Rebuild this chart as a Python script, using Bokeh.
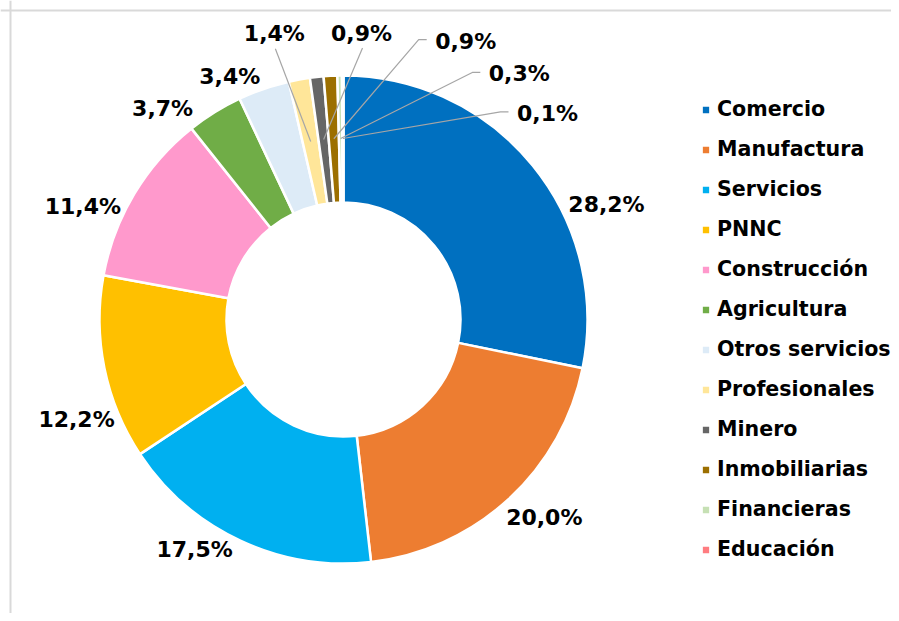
import math
from bokeh.plotting import figure
from bokeh.models import ColumnDataSource, Range1d, Legend, LegendItem, Span
from bokeh.core.properties import value
from bokeh.embed import file_html
from bokeh.resources import INLINE

# ---- data ----
categories = ["Comercio", "Manufactura", "Servicios", "PNNC", "Construcción",
              "Agricultura", "Otros servicios", "Profesionales", "Minero",
              "Inmobiliarias", "Financieras", "Educación"]
shares = [28.2, 20.0, 17.5, 12.2, 11.4, 3.7, 3.4, 1.4, 0.9, 0.9, 0.3, 0.1]
label_texts = ["28,2%", "20,0%", "17,5%", "12,2%", "11,4%", "3,7%", "3,4%",
               "1,4%", "0,9%", "0,9%", "0,3%", "0,1%"]
colors = ["#0070C0", "#ED7D31", "#00B0F0", "#FFC000", "#FF99CC", "#70AD47",
          "#DDEBF7", "#FFE699", "#666666", "#9C6F00", "#C6E0B4", "#FF7C80"]

# ---- layout (label placement, polar: degrees clockwise from top, px from centre) ----
label_angle = [66.4, 134.6, 212.9, 249.5, 293.4, 319.4, 334.9, 346.4, 3.6, 23.7, 35.6, 44.7]
label_dist = [287, 282, 274, 285, 284, 278, 268, 294, 287, 304, 302, 290]
leader_style = [None, None, None, None, None, None, None, "below", "below", "left", "left", "left"]

W, H = 891, 613
CX, CY = 343, H - 319
R_OUT, R_IN = 244, 117
FONT = "DejaVu Sans"
FSIZE = "20.6px"
LABEL_FSIZE = "22px"

total = sum(shares)
starts, ends, mids = [], [], []
cum = 0.0
for s in shares:
    f0 = cum / total
    cum += s
    f1 = cum / total
    starts.append(math.pi / 2 - 2 * math.pi * f0)
    ends.append(math.pi / 2 - 2 * math.pi * f1)
    mids.append(2 * math.pi * (f0 + f1) / 2)  # clockwise from top

src = ColumnDataSource(dict(cat=categories, start=starts, end=ends, color=colors))

p = figure(width=W, height=H, x_range=Range1d(0, W), y_range=Range1d(0, H),
           output_backend="svg", toolbar_location=None,
           x_axis_location=None, y_axis_location=None,
           min_border=0, outline_line_color=None, background_fill_color="white")
p.grid.visible = False

r = p.annular_wedge(x=CX, y=CY, inner_radius=R_IN, outer_radius=R_OUT,
                    start_angle="start", end_angle="end", direction="clock",
                    fill_color="color", line_color="white", line_width=2.5,
                    source=src)

# frame border (left and top)
p.add_layout(Span(location=10, dimension="height", line_color="#D9D9D9", line_width=2))
p.add_layout(Span(location=H - 10, dimension="width", line_color="#D9D9D9", line_width=2))

# data labels
lx = [CX + d * math.sin(math.radians(a)) for a, d in zip(label_angle, label_dist)]
ly = [CY + d * math.cos(math.radians(a)) for a, d in zip(label_angle, label_dist)]
p.text(x=lx, y=ly, text=label_texts, text_align="center", text_baseline="middle",
       text_font=value(FONT), text_font_style="bold", text_font_size=LABEL_FSIZE,
       text_color="black")

# leader lines for the small slices
R_MID = (R_OUT + R_IN) / 2 + 0.5
xs, ys = [], []
for i, st in enumerate(leader_style):
    if st is None:
        continue
    ex = CX + R_MID * math.sin(mids[i])
    ey = CY + R_MID * math.cos(mids[i])
    if st == "below":
        xs.append([lx[i] + 1, ex])
        ys.append([ly[i] - 15, ey])
    else:
        yy = ly[i] + 1.5
        xs.append([lx[i] - 39, lx[i] - 47, ex])
        ys.append([yy, yy, ey])
p.multi_line(xs=xs, ys=ys, line_color="#A6A6A6", line_width=1.2)

# legend
items = [LegendItem(label=c, renderers=[r], index=i) for i, c in enumerate(categories)]
legend = Legend(items=items, location=(700, 44), orientation="vertical",
                glyph_width=11, glyph_height=11, label_standoff=6,
                label_height=40, spacing=0, padding=0, margin=0,
                border_line_color=None, background_fill_alpha=0,
                label_text_font=FONT, label_text_font_style="bold",
                label_text_font_size=FSIZE, label_text_color="black")
p.add_layout(legend)

open("out.html", "w").write(file_html(p, INLINE))
